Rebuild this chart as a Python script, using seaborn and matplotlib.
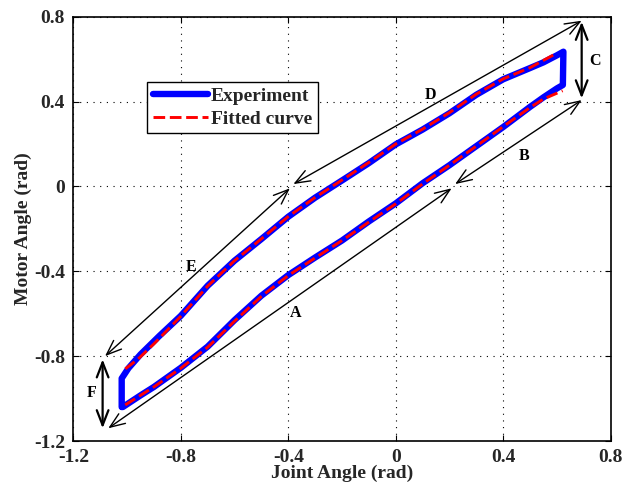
import numpy as np
import pandas as pd
import matplotlib
matplotlib.use("Agg")
import matplotlib.pyplot as plt
import seaborn as sns

# ---------------- data ----------------
# Experiment loop: lower branch (A, B), right vertical (C), upper branch (D, E), left vertical (F)
exp_lower_x = [-1.016, -0.95, -0.90, -0.80, -0.70, -0.60, -0.50, -0.40, -0.30, -0.20,
               -0.10, 0.00, 0.10, 0.20, 0.30, 0.40, 0.50, 0.55, 0.60, 0.622]
exp_lower_y = [-1.040, -0.985, -0.945, -0.855, -0.755, -0.630, -0.515, -0.418, -0.335, -0.255,
               -0.165, -0.080, 0.015, 0.100, 0.190, 0.280, 0.375, 0.420, 0.462, 0.478]
exp_upper_x = [0.624, 0.60, 0.55, 0.50, 0.40, 0.30, 0.20, 0.10, 0.00, -0.10, -0.20,
               -0.30, -0.40, -0.50, -0.60, -0.70, -0.80, -0.88, -0.95, -0.995, -1.02, -1.02]
exp_upper_y = [0.635, 0.618, 0.585, 0.558, 0.505, 0.432, 0.345, 0.268, 0.198, 0.110, 0.028,
               -0.053, -0.143, -0.248, -0.350, -0.468, -0.610, -0.705, -0.792, -0.857, -0.905, -1.040]

fit_lower_x = [-1.007, -0.90, -0.80, -0.70, -0.60, -0.50, -0.40, -0.30, -0.20, -0.10,
               0.00, 0.10, 0.20, 0.30, 0.40, 0.50, 0.55, 0.621]
fit_lower_y = [-1.030, -0.945, -0.857, -0.758, -0.635, -0.518, -0.420, -0.337, -0.255, -0.168,
               -0.082, 0.012, 0.100, 0.190, 0.282, 0.372, 0.412, 0.451]
fit_upper_x = [0.586, 0.50, 0.40, 0.30, 0.20, 0.10, 0.00, -0.10, -0.20, -0.30,
               -0.40, -0.50, -0.60, -0.70, -0.80, -0.90, -0.96, -1.016]
fit_upper_y = [0.619, 0.560, 0.507, 0.435, 0.348, 0.270, 0.200, 0.113, 0.030, -0.052,
               -0.142, -0.247, -0.350, -0.470, -0.612, -0.742, -0.815, -0.869]

# annotation arrows (start, end) and labels
arrow_names = ["A", "B", "C", "D", "E", "F"]
arrow_start = [(-1.07, -1.14), (0.221, 0.011), (0.692, 0.776), (0.692, 0.781), (-0.394, -0.009), (-1.091, -0.815)]
arrow_end = [(0.208, -0.009), (0.692, 0.407), (0.692, 0.415), (-0.381, 0.011), (-1.082, -0.800), (-1.091, -1.140)]
label_pos = [(-0.372, -0.598), (0.477, 0.145), (0.742, 0.593), (0.130, 0.431), (-0.762, -0.379), (-1.132, -0.975)]

xticks = [-1.2, -0.8, -0.4, 0, 0.4, 0.8]
yticks = [-1.2, -0.8, -0.4, 0, 0.4, 0.8]
xtick_labels = ["-1.2", "-0.8", "-0.4", "0", "0.4", "0.8"]
ytick_labels = ["-1.2", "-0.8", "-0.4", "0", "0.4", "0.8"]

# ---------------- style ----------------
sns.set_theme(style="white")
plt.rcParams["font.family"] = ["Liberation Serif", "DejaVu Serif"]
plt.rcParams["font.weight"] = "bold"

fig = plt.figure(figsize=(6.36, 4.88), dpi=100)
ax = fig.add_axes([0.1153, 0.0963, 0.9602 - 0.1153, 0.9658 - 0.0963])

exp_df = pd.DataFrame({"x": exp_lower_x + exp_upper_x, "y": exp_lower_y + exp_upper_y})
fit_lo = pd.DataFrame({"x": fit_lower_x, "y": fit_lower_y})
fit_up = pd.DataFrame({"x": fit_upper_x, "y": fit_upper_y})

sns.lineplot(data=exp_df, x="x", y="y", sort=False, estimator=None, ax=ax,
             color="#0000ff", linewidth=4.6, label="Experiment",
             solid_joinstyle="round", solid_capstyle="round")
sns.lineplot(data=fit_lo, x="x", y="y", sort=False, estimator=None, ax=ax,
             color="#ff0000", linewidth=2.1, linestyle=(0, (4, 1.6)), label="Fitted curve")
sns.lineplot(data=fit_up, x="x", y="y", sort=False, estimator=None, ax=ax,
             color="#ff0000", linewidth=2.1, linestyle=(0, (4, 1.6)), label="_nolegend_")

# arrows and letters
for name, s, e, lp in zip(arrow_names, arrow_start, arrow_end, label_pos):
    vertical = abs(s[0] - e[0]) < 1e-6
    ax.annotate("", xy=e, xytext=s,
                arrowprops=dict(arrowstyle="<->,head_length=0.9,head_width=0.35",
                                color="black", lw=1.6 if vertical else 1.0,
                                shrinkA=0, shrinkB=0))
    ax.text(lp[0], lp[1], name, fontsize=11.5, fontweight="bold",
            ha="center", va="center", color="black")

ax.set_xlim(-1.2, 0.8)
ax.set_ylim(-1.2, 0.8)
ax.set_xticks(xticks)
ax.set_yticks(yticks)
ax.set_xticklabels(xtick_labels, fontsize=14, fontweight="bold")
ax.set_yticklabels(ytick_labels, fontsize=14, fontweight="bold")
ax.tick_params(direction="in", length=4, width=0.8, color="black", pad=6,
               top=True, right=True, bottom=True, left=True)
ax.grid(True, color="black", linestyle=(0, (1, 5)), linewidth=0.8)
for sp in ax.spines.values():
    sp.set_visible(True)
    sp.set_color("black")
    sp.set_linewidth(1.2)

ax.set_xlabel("Joint Angle (rad)", fontsize=14, fontweight="bold", labelpad=-1)
ax.set_ylabel("Motor Angle (rad)", fontsize=14, fontweight="bold", labelpad=1)

leg = ax.legend(loc="upper left", bbox_to_anchor=(0.138, 0.847), borderaxespad=0,
                prop={"family": ["Liberation Serif"], "weight": "bold", "size": 14},
                handlelength=2.8, handletextpad=0.15, labelspacing=0.25, borderpad=0.3,
                frameon=True, fancybox=False, edgecolor="black", framealpha=1)
leg.get_frame().set_linewidth(1.0)

fig.savefig("out.png", dpi=100)
